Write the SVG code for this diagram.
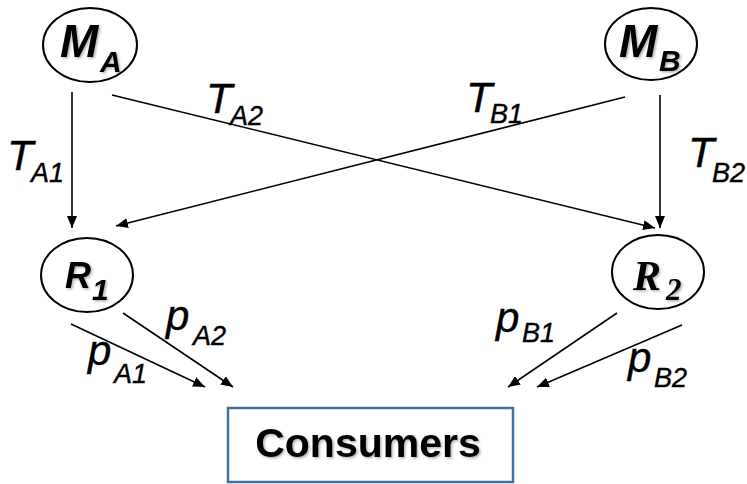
<svg xmlns="http://www.w3.org/2000/svg" width="747" height="484" viewBox="0 0 747 484">
  <style>
    .node { fill: #ffffff; stroke: #000000; stroke-width: 2; }
    .edge { stroke: #000000; stroke-width: 1.6; fill: none; marker-end: url(#arr); }
    .lbl { font-family: "Liberation Sans", Arial, sans-serif; font-style: italic; fill: #000000; stroke: #000000; stroke-width: 0.4; }
    .nl { font-family: "Liberation Sans", Arial, sans-serif; font-style: italic; font-weight: bold; fill: #000000; }
    .ns { font-family: "Liberation Serif", "Times New Roman", serif; font-style: italic; font-weight: bold; fill: #000000; }
    .box { fill: #ffffff; stroke: #41719C; stroke-width: 2.5; }
    .cons { font-family: "Liberation Sans", Arial, sans-serif; font-weight: bold; font-size: 41px; fill: #000000; }
  </style>
  <defs>
    <marker id="arr" markerUnits="userSpaceOnUse" markerWidth="14" markerHeight="10" refX="12" refY="5" orient="auto">
      <path d="M0,0 L12,5 L0,10 Z" fill="#000000"/>
    </marker>
    <filter id="sh" x="-10%" y="-10%" width="130%" height="130%">
      <feDropShadow dx="1.5" dy="1.5" stdDeviation="1" flood-color="#000000" flood-opacity="0.3"/>
    </filter>
  </defs>

  <g id="connectors">
    <line class="edge" x1="72" y1="92" x2="72" y2="228"/>
    <line class="edge" x1="112" y1="95" x2="655" y2="228"/>
    <line class="edge" x1="625" y1="97" x2="116" y2="226"/>
    <line class="edge" x1="660" y1="95" x2="660" y2="228"/>
    <line class="edge" x1="71" y1="324" x2="205" y2="387"/>
    <line class="edge" x1="123" y1="313" x2="233" y2="387"/>
    <line class="edge" x1="617" y1="313" x2="508" y2="387"/>
    <line class="edge" x1="682" y1="325" x2="537" y2="387"/>
  </g>

  <g id="labels">
    <text class="lbl" font-size="43" x="7" y="170">T</text>
    <text class="lbl" font-size="27" x="31" y="182">A1</text>
    <text class="lbl" font-size="43" x="206" y="113">T</text>
    <text class="lbl" font-size="27" x="230" y="125">A2</text>
    <text class="lbl" font-size="43" x="466" y="112">T</text>
    <text class="lbl" font-size="27" x="490" y="123">B1</text>
    <text class="lbl" font-size="43" x="688" y="167">T</text>
    <text class="lbl" font-size="27" x="712" y="182">B2</text>
    <text class="lbl" font-size="42" x="166" y="330">p</text>
    <text class="lbl" font-size="27" x="193" y="345">A2</text>
    <text class="lbl" font-size="42" x="88" y="365">p</text>
    <text class="lbl" font-size="27" x="114" y="383">A1</text>
    <text class="lbl" font-size="42" x="496" y="332">p</text>
    <text class="lbl" font-size="27" x="522" y="342">B1</text>
    <text class="lbl" font-size="42" x="628" y="372">p</text>
    <text class="lbl" font-size="27" x="654" y="387">B2</text>
  </g>

  <g id="MA">
    <ellipse class="node" cx="90" cy="45" rx="47" ry="37"/>
    <text class="nl" filter="url(#sh)" font-size="46" x="60" y="57">M</text>
    <text class="nl" filter="url(#sh)" font-size="30" x="100" y="72">A</text>
  </g>
  <g id="MB">
    <ellipse class="node" cx="651" cy="44" rx="46" ry="36"/>
    <text class="nl" filter="url(#sh)" font-size="46" x="619" y="57">M</text>
    <text class="nl" filter="url(#sh)" font-size="30" x="659" y="71">B</text>
  </g>
  <g id="R1">
    <ellipse class="node" cx="87" cy="275" rx="46" ry="37"/>
    <text class="nl" filter="url(#sh)" font-size="36" x="65" y="288">R</text>
    <text class="nl" filter="url(#sh)" font-size="30" x="92" y="300">1</text>
  </g>
  <g id="R2">
    <ellipse class="node" cx="658" cy="272" rx="46" ry="37"/>
    <text class="ns" filter="url(#sh)" font-size="42" x="633" y="290">R</text>
    <text class="ns" filter="url(#sh)" font-size="31" x="666" y="300">2</text>
  </g>
  <g id="Consumers">
    <rect class="box" x="228" y="408" width="285" height="74"/>
    <text class="cons" filter="url(#sh)" x="368" y="457" text-anchor="middle">Consumers</text>
  </g>
</svg>
